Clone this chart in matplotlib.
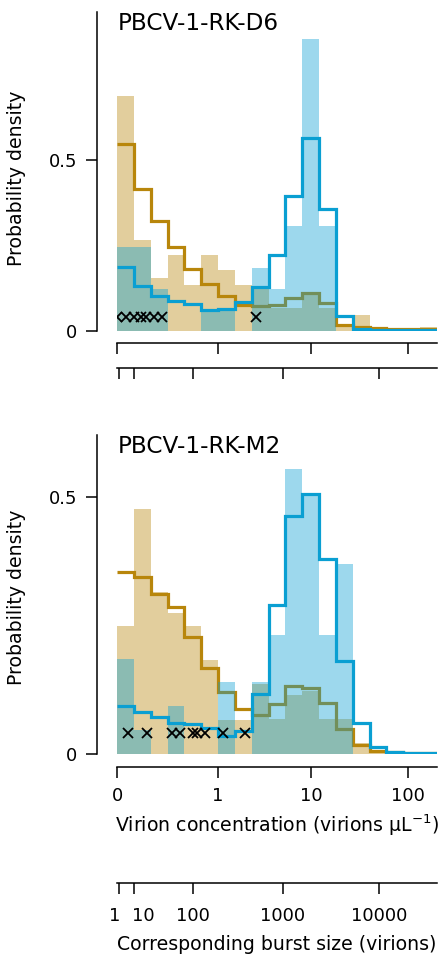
import numpy as np
import matplotlib
matplotlib.use('Agg')
import matplotlib.pyplot as plt
from matplotlib.transforms import ScaledTranslation

plt.rcParams['font.family'] = ['DejaVu Sans']

# ---- data (19 log-spaced bins, virions per uL) ----
titles = ['PBCV-1-RK-D6', 'PBCV-1-RK-M2']

tan_d6 = [0.687, 0.266, 0.154, 0.222, 0.134, 0.222, 0.177, 0.134, 0.121, 0.067,
          0.067, 0.114, 0.067, 0.014, 0.046, 0.009, 0.006, 0.006, 0.012]
blue_d6 = [0.244, 0.244, 0.121, 0.0, 0.0, 0.056, 0.066, 0.0, 0.183, 0.122,
           0.307, 0.854, 0.307, 0.0, 0.0, 0.0, 0.003, 0.0, 0.0]
gold_fit_d6 = [0.547, 0.416, 0.322, 0.246, 0.180, 0.137, 0.102, 0.076, 0.071, 0.076,
               0.097, 0.111, 0.082, 0.017, 0.010, 0.007, 0.006, 0.006, 0.006]
blue_fit_d6 = [0.187, 0.131, 0.103, 0.088, 0.077, 0.061, 0.064, 0.084, 0.129, 0.222,
               0.396, 0.566, 0.356, 0.043, 0.004, 0.003, 0.003, 0.003, 0.003]
marks_d6 = [0.0, 0.023, 0.051, 0.075, 0.099, 0.142, 0.193, 2.59]

tan_m2 = [0.249, 0.477, 0.316, 0.274, 0.249, 0.183, 0.067, 0.067, 0.136, 0.069,
          0.115, 0.123, 0.069, 0.069, 0.022, 0.008, 0.0, 0.0, 0.0]
blue_m2 = [0.185, 0.047, 0.0, 0.093, 0.0, 0.0, 0.140, 0.0, 0.140, 0.232,
           0.554, 0.506, 0.232, 0.370, 0.0, 0.0, 0.0, 0.0, 0.0]
gold_fit_m2 = [0.354, 0.344, 0.311, 0.287, 0.228, 0.167, 0.120, 0.088, 0.076, 0.097,
               0.133, 0.128, 0.100, 0.049, 0.018, 0.006, 0.003, 0.002, 0.002]
blue_fit_m2 = [0.093, 0.082, 0.073, 0.061, 0.058, 0.050, 0.036, 0.045, 0.116, 0.291,
               0.464, 0.506, 0.379, 0.181, 0.060, 0.014, 0.003, 0.002, 0.002]
marks_m2 = [0.031, 0.102, 0.266, 0.346, 0.511, 0.572, 0.707, 1.146, 1.985]
mark_y = 0.04

ylims = [0.934, 0.621]
conc_ticks = [0, 1, 10, 100]
conc_labels = ['0', '1', '10', '100']
burst_ticks = [1, 10, 100, 1000, 10000]
burst_labels = ['1', '10', '100', '1000', '10000']
burst_per_conc = 200.0

GOLD = '#b8860b'
BLUE = '#0a9fd2'


def fwd(x):
    with np.errstate(invalid='ignore', divide='ignore'):
        return np.log10(np.asarray(x, dtype=float) + 0.1)


def inv(t):
    return 10 ** np.asarray(t, dtype=float) - 0.1


# bin edges: 6 bins per [0, 1], 19 bins in total
step = (fwd(1.0) - fwd(0.0)) / 6
edges = inv(fwd(0.0) + step * np.arange(20))
edges[0] = 0.0

fig = plt.figure(figsize=(4.4, 9.71), dpi=100)
boxes = [[117 / 440, (971 - 330.7) / 971, 320 / 440, 318.7 / 971],
         [117 / 440, (971 - 754) / 971, 320 / 440, 319 / 971]]
panels = [(tan_d6, blue_d6, gold_fit_d6, blue_fit_d6, marks_d6),
          (tan_m2, blue_m2, gold_fit_m2, blue_fit_m2, marks_m2)]
ylab_y = [0.479, 0.492]
sec_offset = [26.6, 92.9]

for k, (box, data) in enumerate(zip(boxes, panels)):
    tan, blue, gfit, bfit, marks = data
    ax = fig.add_axes(box)
    ax.set_xscale('function', functions=(fwd, inv))

    ax.stairs(tan, edges, fill=True, color=GOLD, alpha=0.4, lw=0, zorder=1)
    ax.stairs(gfit, edges, baseline=None, color=GOLD, lw=2.3, zorder=2)
    ax.stairs(blue, edges, fill=True, color=BLUE, alpha=0.4, lw=0, zorder=3)
    ax.stairs(bfit, edges, baseline=None, color=BLUE, lw=2.3, zorder=4)
    ax.plot(marks, [mark_y] * len(marks), ls='none', marker='x', ms=7.5,
            mew=1.3, color='black', zorder=5)

    ax.set_xlim(edges[0], edges[-1])
    ax.set_ylim(0, ylims[k])
    for s in ['top', 'right']:
        ax.spines[s].set_visible(False)
    ax.spines['left'].set_position(('outward', 14.4))
    ax.spines['bottom'].set_position(('outward', 9))
    for s in ['left', 'bottom']:
        ax.spines[s].set_linewidth(1.1)
    ax.tick_params(length=8, width=1.1, labelsize=13, pad=6)
    ax.tick_params(axis='x', pad=7)
    ax.set_yticks([0, 0.5])
    ax.set_yticklabels(['0', '0.5'])
    ax.set_xticks(conc_ticks)
    ax.xaxis.set_minor_locator(matplotlib.ticker.NullLocator())
    ax.set_ylabel('Probability density', fontsize=13.6)
    ax.yaxis.set_label_coords(-0.283, ylab_y[k])
    ax.text(0.003, 1.0, titles[k], transform=ax.transAxes, fontsize=16.7,
            ha='left', va='top')

    ax2 = ax.twiny()
    ax2.set_xscale('function', functions=(fwd, inv))
    ax2.set_xlim(edges[0], edges[-1])
    for s in ['top', 'right', 'left']:
        ax2.spines[s].set_visible(False)
    ax2.spines['bottom'].set_position(('outward', sec_offset[k]))
    ax2.spines['bottom'].set_linewidth(1.1)
    ax2.xaxis.set_ticks_position('bottom')
    ax2.xaxis.set_label_position('bottom')
    ax2.set_xticks([b / burst_per_conc for b in burst_ticks])
    ax2.xaxis.set_minor_locator(matplotlib.ticker.NullLocator())
    ax2.tick_params(length=8, width=1.1, labelsize=13, pad=9.5)

    if k == 0:
        ax.set_xticklabels([])
        ax2.set_xticklabels([])
    else:
        ax.set_xticklabels(conc_labels)
        ax.set_xlabel('Virion concentration (virions \u00b5L$^{-1}$)', fontsize=13.6, labelpad=5)
        ax2.set_xticklabels(burst_labels)
        ax2.set_xlabel('Corresponding burst size (virions)', fontsize=13.6, labelpad=7)
        labs = ax2.get_xticklabels()
        for lab, dx in zip(labs[:2], [-4, 9]):
            lab.set_transform(lab.get_transform() +
                              ScaledTranslation(dx / 100, 0, fig.dpi_scale_trans))

fig.savefig('out.png', dpi=100)
